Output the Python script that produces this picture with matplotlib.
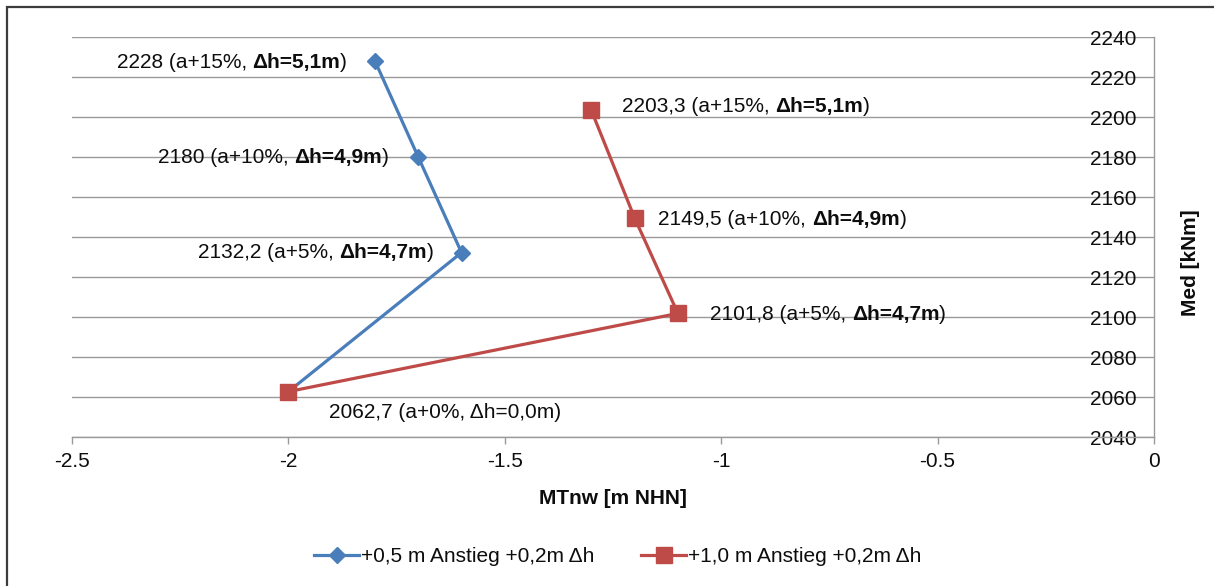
import matplotlib
matplotlib.use("Agg")
import matplotlib.pyplot as plt
from matplotlib.patches import Rectangle

# --- data -------------------------------------------------------------
mtnw_05 = [-2.0, -1.6, -1.7, -1.8]
med_05 = [2062.7, 2132.2, 2180.0, 2228.0]
mtnw_10 = [-2.0, -1.1, -1.2, -1.3]
med_10 = [2062.7, 2101.8, 2149.5, 2203.3]
anstieg = ["a+0%", "a+5%", "a+10%", "a+15%"]
delta_h = ["0,0", "4,7", "4,9", "5,1"]
series_names = ["+0,5 m Anstieg +0,2m \u0394h", "+1,0 m Anstieg +0,2m \u0394h"]
x_ticks = [-2.5, -2.0, -1.5, -1.0, -0.5, 0.0]
x_ticklabels = ["-2.5", "-2", "-1.5", "-1", "-0.5", "0"]
y_ticks = [2040, 2060, 2080, 2100, 2120, 2140, 2160, 2180, 2200, 2220, 2240]

# --- style ------------------------------------------------------------
plt.rcParams["font.family"] = ["Liberation Sans", "DejaVu Sans"]
FS = 15
BLUE = "#4A7EBB"
RED = "#BE4B48"
GRID = "#9a9a9a"
TXT = "#0d0d0d"

fig = plt.figure(figsize=(12.14, 5.86), dpi=100)
fig.patch.set_facecolor("white")

# outer chart frame (open to the right and bottom edge)
fig.patches.append(Rectangle((7 / 1214, -0.05), 1.2, 1 - 7 / 586 + 0.05,
                             transform=fig.transFigure, fill=False,
                             edgecolor="#3c3c3c", linewidth=1.6))

ax = fig.add_axes([72 / 1214, 1 - 437 / 586, 1082 / 1214, 400 / 586])

ax.plot(mtnw_05, med_05, color=BLUE, lw=2.3, marker="D", ms=8,
        mfc=BLUE, mec=BLUE, label=series_names[0], zorder=3)
ax.plot(mtnw_10, med_10, color=RED, lw=2.3, marker="s", ms=12,
        mfc=RED, mec=RED, label=series_names[1], zorder=4)

ax.set_xlim(-2.5, 0)
ax.set_ylim(2040, 2240)
ax.set_xticks(x_ticks)
ax.set_xticklabels(x_ticklabels)
ax.set_yticks(y_ticks)

ax.grid(axis="y", color=GRID, lw=1.0)
ax.set_axisbelow(True)
for side in ("left", "top"):
    ax.spines[side].set_visible(False)
for side in ("right", "bottom"):
    ax.spines[side].set_color(GRID)
    ax.spines[side].set_linewidth(1.0)

ax.tick_params(axis="x", direction="out", length=5, width=1, color=GRID,
               pad=6, labelsize=FS, labelcolor=TXT)
ax.yaxis.tick_right()
ax.tick_params(axis="y", length=0, pad=-12.5, labelsize=FS, labelcolor=TXT)
for lab in ax.get_yticklabels():
    lab.set_horizontalalignment("right")

ax.set_xlabel("MTnw [m NHN]", fontsize=FS, fontweight="bold", color=TXT)
ax.xaxis.set_label_coords(0.5, -0.1525)
ax.xaxis.label.set_verticalalignment("center")
ax.yaxis.set_label_position("right")
ax.set_ylabel("Med [kNm]", fontsize=FS, fontweight="bold", color=TXT)
ax.yaxis.label.set_rotation_mode("default")
ax.yaxis.label.set_verticalalignment("center")
ax.yaxis.label.set_horizontalalignment("center")
ax.yaxis.set_label_coords(1.0333, 0.435)


def fmt(v):
    return f"{v:g}".replace(".", ",")


def rich_label(x, y, parts, dx, dy, ha):
    """Draw a label made of (text, weight) pieces next to a data point."""
    gap = 0.28 * FS
    seq = parts if ha == "left" else parts[::-1]
    prev = None
    pending_gap = 0.0
    for text, weight in seq:
        lead = text.startswith(" ")
        trail = text.endswith(" ")
        body = text.strip()
        if prev is None:
            t = ax.annotate(body, xy=(x, y), xytext=(dx, dy),
                            textcoords="offset points", ha=ha, va="center",
                            fontsize=FS, fontweight=weight, color=TXT,
                            zorder=6)
        else:
            off = pending_gap
            if ha == "left" and lead:
                off += gap
            if ha == "right" and trail:
                off += gap
            t = ax.annotate(body, xy=(1 if ha == "left" else 0, 0),
                            xycoords=prev,
                            xytext=(off if ha == "left" else -off, 0),
                            textcoords="offset points", ha=ha, va="bottom",
                            fontsize=FS, fontweight=weight, color=TXT,
                            zorder=6)
        pending_gap = gap if ((ha == "left" and trail) or
                              (ha == "right" and lead)) else 0.0
        prev = t


# point labels: (series x, series y, index, offset dx, offset dy, alignment)
label_layout = [
    (mtnw_05, med_05, 1, -20, 0, "right"),
    (mtnw_05, med_05, 2, -21, 0, "right"),
    (mtnw_05, med_05, 3, -20, -1, "right"),
    (mtnw_10, med_10, 1, 23, -1, "left"),
    (mtnw_10, med_10, 2, 17, -1, "left"),
    (mtnw_10, med_10, 3, 22, 3, "left"),
]
for xs, ys, i, dx, dy, ha in label_layout:
    parts = [(f"{fmt(ys[i])} ({anstieg[i]}, ", "normal"),
             (f"\u0394h={delta_h[i]}m", "bold"),
             (")", "normal")]
    rich_label(xs[i], ys[i], parts, dx, dy, ha)

# shared starting point of both series
ax.annotate(f"{fmt(med_10[0])} ({anstieg[0]}, \u0394h={delta_h[0]}m)",
            xy=(mtnw_10[0], med_10[0]), xytext=(29, -15),
            textcoords="offset points", ha="left", va="center",
            fontsize=FS, color=TXT, zorder=6)

leg = fig.legend(loc="center", bbox_to_anchor=(0.509, 1 - 557 / 586),
                 ncol=2, frameon=False, fontsize=FS, handlelength=2.15,
                 handletextpad=0.1, columnspacing=2.25)
for t in leg.get_texts():
    t.set_color(TXT)

fig.savefig("out.png", dpi=100, facecolor="white")
